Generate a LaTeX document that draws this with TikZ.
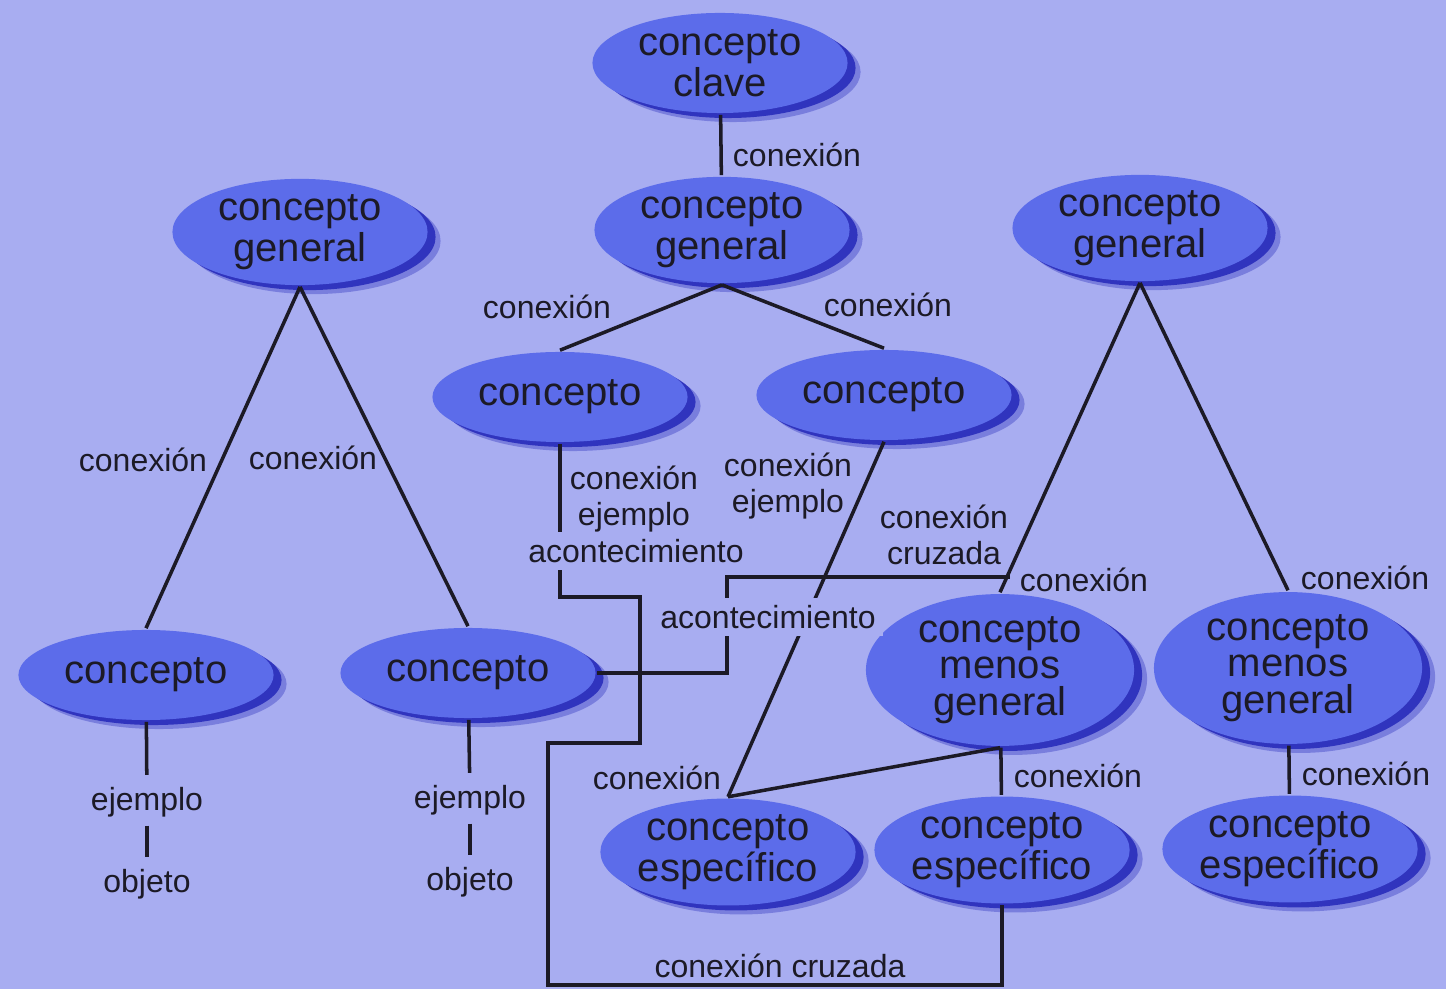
\documentclass[tikz,border=0pt]{standalone}
\usepackage{fontspec}
\setmainfont{Liberation Sans}
\usetikzlibrary{shapes.geometric,shadows}
\definecolor{paper}{RGB}{168,173,241}
\definecolor{blob}{RGB}{92,108,234}
\definecolor{blobshadow}{RGB}{36,40,185}
\definecolor{ink}{RGB}{28,26,38}

\begin{document}
\begin{tikzpicture}[x=0.01cm,y=-0.01cm,-,line width=1pt,draw=ink,text=ink,
    main node/.style={ellipse,fill=blob,inner sep=0pt,minimum width=2.55cm,minimum height=1cm,align=center,
        font=\fontsize{11.4}{10.4}\selectfont,
        general shadow={shadow xshift=0.13cm,shadow yshift=-0.09cm,fill=blobshadow,opacity=0.35},
        general shadow={shadow xshift=0.08cm,shadow yshift=-0.05cm,fill=blobshadow,opacity=0.85}},
    flat node/.style={main node,minimum height=0.9cm},
    tall node/.style={main node,minimum width=2.68cm,minimum height=1.44cm},
    link/.style={font=\fontsize{9.1}{10.4}\selectfont,align=center,inner sep=1pt},
    cut/.style={link,fill=paper,inner sep=2pt}]
            \useasboundingbox (0,0) rectangle (1446,989);
            \fill[paper] (0,0) rectangle (1446,989);

            \node[main node] (1) at (720,63) {concepto\\clave};
            \node[main node] (2) at (722,230) {concepto\\general};
            \node[main node] (3) at (300,232) {concepto\\general};
            \node[main node] (4) at (1140,228) {concepto\\general};
            \node[flat node] (5) at (560,397) {concepto};
            \node[flat node] (6) at (884,395) {concepto};
            \node[flat node] (7) at (146,675) {concepto};
            \node[flat node] (8) at (468,673) {concepto};
            \node[tall node] (9) at (1000,670) {concepto\\menos\\general};
            \node[tall node] (10) at (1288,668) {concepto\\menos\\general};
            \node[main node] (11) at (728,852) {concepto\\específico};
            \node[main node] (12) at (1002,850) {concepto\\específico};
            \node[main node] (13) at (1290,849) {concepto\\específico};

            \node[link] (l1) at (797,155) {conexión};
            \node[link] (l2) at (547,307) {conexión};
            \node[link] (l3) at (888,305) {conexión};
            \node[link] (l4) at (143,460) {conexión};
            \node[link] (l5) at (313,458) {conexión};
            \node[link] (l6) at (634,499) {conexión\\ejemplo};
            \node[link] (l7) at (788,486) {conexión\\ejemplo};
            \node[link] (l8) at (944,535) {conexión\\cruzada};
            \node[link] (l9) at (1084,580) {conexión};
            \node[link] (l10) at (1365,578) {conexión};
            \node[link] (l11) at (657,778) {conexión};
            \node[link] (l12) at (1078,776) {conexión};
            \node[link] (l13) at (1366,774) {conexión};
            \node[link] (e1) at (147,802) {ejemplo};
            \node[link] (o1) at (147,884) {objeto};
            \node[link] (e2) at (470,800) {ejemplo};
            \node[link] (o2) at (470,882) {objeto};
            \node[link] (l14) at (780,966) {conexión cruzada};

            \coordinate (k1) at (640,597);
            \coordinate (k2) at (548,743);
            \coordinate (k3) at (548,985);
            \coordinate (k4) at (727,577);
            \coordinate (k5) at (1010,577);

            \path
                    (1) edge (2)
                    (2.south) edge (5.north)
                    (2.south) edge (6.north)
                    (3.south) edge (7.north)
                    (3.south) edge (8.north)
                    (4.south) edge (9.north)
                    (4.south) edge (10.north)
                    (6.south) edge (11.north)
                    (9.south) edge (11.north)
                    (9) edge (12)
                    (10) edge (13)
                    (7) edge[shorten >=2pt] (e1)
                    (e1) edge[shorten <=1pt,shorten >=2pt] (o1)
                    (8) edge[shorten >=2pt] (e2)
                    (e2) edge[shorten <=1pt,shorten >=2pt] (o2)
                ;
            % cross links
            \draw (5.south) |- (k1) |- (k2) -- (k3) -| (12.south);
            \draw (8.east) -| (k4) -- (k5);

            \node[cut] (a1) at (636,551) {acontecimiento};
            \node[cut] (a2) at (768,617) {acontecimiento};
        \end{tikzpicture}
\end{document}
